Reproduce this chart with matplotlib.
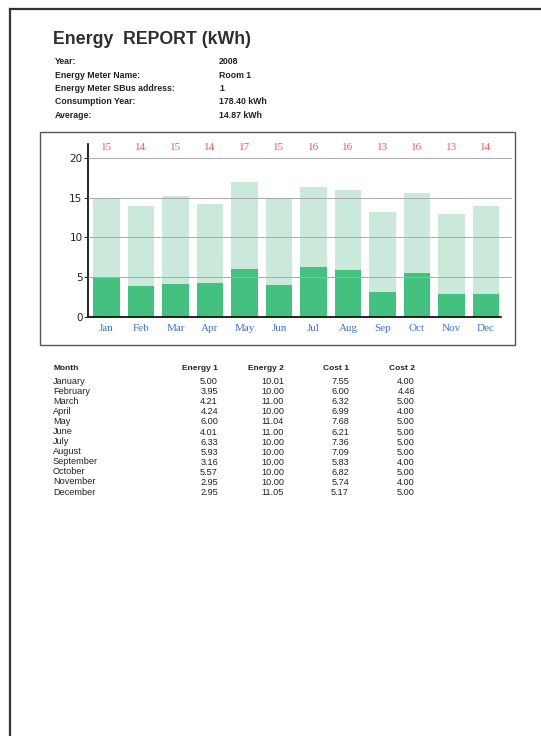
import matplotlib.pyplot as plt
import numpy as np

W, H = 541, 736

# Dados
meses = ['Jan', 'Feb', 'Mar', 'Apr', 'May', 'Jun', 'Jul', 'Aug', 'Sep', 'Oct', 'Nov', 'Dec']
meses_longos = ['January', 'February', 'March', 'April', 'May', 'June', 'July',
                'August', 'September', 'October', 'November', 'December']
energia1 = [5.00, 3.95, 4.21, 4.24, 6.00, 4.01, 6.33, 5.93, 3.16, 5.57, 2.95, 2.95]
energia2 = [10.01, 10.00, 11.00, 10.00, 11.04, 11.00, 10.00, 10.00, 10.00, 10.00, 10.00, 11.05]
custo1 = [7.55, 6.00, 6.32, 6.99, 7.68, 6.21, 7.36, 7.09, 5.83, 6.82, 5.74, 5.17]
custo2 = [4.00, 4.46, 5.00, 4.00, 5.00, 5.00, 5.00, 5.00, 4.00, 5.00, 4.00, 5.00]

info_rotulos = ['Year:', 'Energy Meter Name:', 'Energy Meter SBus address:',
                'Consumption Year:', 'Average:']
info_valores = ['2008', 'Room 1', '1', '178.40 kWh', '14.87 kWh']

totais = np.array(energia1) + np.array(energia2)

def fx(x):
    return x / W

def fy(y):
    return 1 - y / H

fig = plt.figure(figsize=(W / 100, H / 100), dpi=100)
fig.patch.set_facecolor('white')

# Moldura da página
fig.add_artist(plt.Line2D([fx(10), fx(10)], [fy(9), 0], color='#333333', lw=1.6))
fig.add_artist(plt.Line2D([fx(10), 1], [fy(9), fy(9)], color='#333333', lw=1.6))

# Cabeçalho
fig.text(fx(53), fy(40), 'Energy  REPORT (kWh)', fontsize=12.8, fontweight='bold',
         color='#2e2e2e', family='Liberation Sans', va='center')
for i, (r, v) in enumerate(zip(info_rotulos, info_valores)):
    y = 62 + i * 13.3
    fig.text(fx(55), fy(y), r, fontsize=6.3, fontweight='bold', family='Liberation Sans',
             color='#222222', va='center')
    fig.text(fx(219), fy(y), v, fontsize=6.3, fontweight='bold', family='Liberation Sans',
             color='#222222', va='center')

# Moldura do gráfico
fig.add_artist(plt.Rectangle((fx(40), fy(345)), fx(515 - 40), (345 - 132) / H,
                             fill=False, edgecolor='#555555', lw=1.0))

# Gráfico
ax = fig.add_axes([fx(88), fy(317), fx(424), 21.8 * 7.95 / H])
x = np.arange(len(meses))
ax.bar(x, energia1, width=0.78, color='#45c17f', zorder=2)
ax.bar(x, energia2, width=0.78, bottom=energia1, color='#cbe9da', zorder=2)
ax.set_xlim(-0.536, 11.755)
ax.set_ylim(0, 21.8)
ax.set_yticks([0, 5, 10, 15, 20])
ax.yaxis.grid(True, color='#aaaaaa', lw=0.7, zorder=3)
ax.set_axisbelow(False)
ax.set_xticks(x)
ax.set_xticklabels(meses, color='#3f74c0', family='Liberation Serif', fontsize=8)
ax.tick_params(axis='x', length=0, pad=5)
ax.tick_params(axis='y', length=3, width=0.7, labelsize=7.5, pad=1, colors='#222222')
for s in ['top', 'right']:
    ax.spines[s].set_visible(False)
ax.spines['left'].set_linewidth(1.2)
ax.spines['bottom'].set_linewidth(1.2)
ax.spines['bottom'].set_bounds(-0.536, 11.45)
for xi, t in zip(x, totais):
    ax.text(xi, 21.3, f'{t:.0f}', ha='center', va='center', color='#ee5a52',
            family='Liberation Serif', fontsize=8, clip_on=False)

# Tabela
cols = [('Energy 1', energia1, 218), ('Energy 2', energia2, 284),
        ('Cost 1', custo1, 349), ('Cost 2', custo2, 415)]
fig.text(fx(53), fy(368), 'Month', fontsize=6, fontweight='bold', family='Liberation Sans',
         color='#222222', va='center')
for nome, valores, xr in cols:
    fig.text(fx(xr), fy(369), nome, fontsize=6, fontweight='bold', family='Liberation Sans',
             color='#222222', va='center', ha='right')
for i, m in enumerate(meses_longos):
    y = 381 + i * 10.1
    fig.text(fx(53), fy(y), m, fontsize=6.6, family='Liberation Sans', color='#222222', va='center')
    for nome, valores, xr in cols:
        fig.text(fx(xr), fy(y + 0.5), f'{valores[i]:.2f}', fontsize=6.6, family='Liberation Sans',
                 color='#222222', va='center', ha='right')

plt.savefig('out.png', dpi=100)
